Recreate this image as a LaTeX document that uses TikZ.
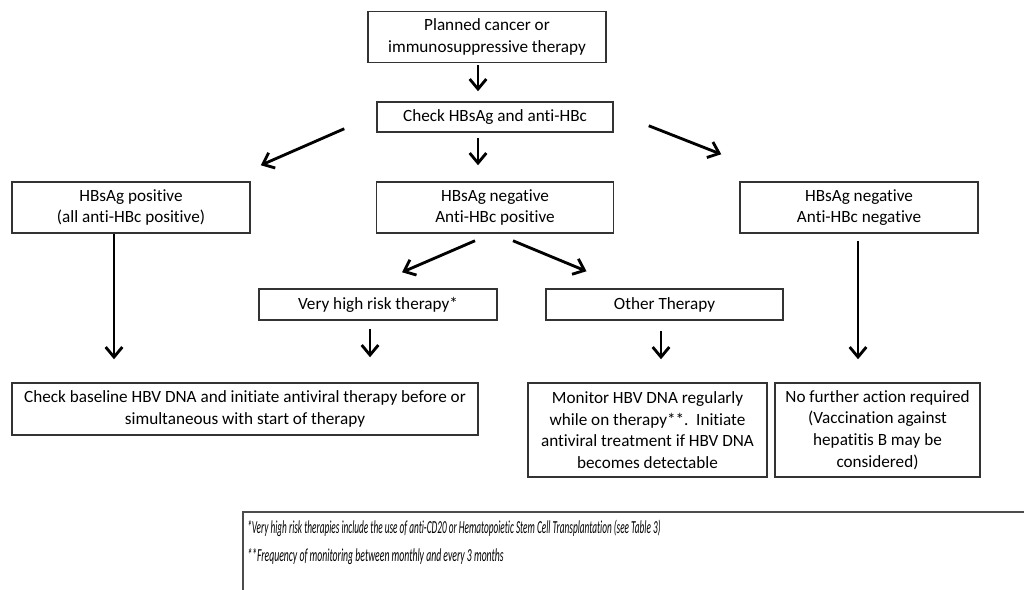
\documentclass[tikz,border=0pt]{standalone}
\usepackage{fontspec}
\setmainfont{Carlito}[Ligatures={NoCommon}]
\usepackage{graphicx}
\usetikzlibrary{%
  arrows.meta%
}

\begin{document}
\begin{tikzpicture}[x=0.6pt,y=-0.6pt,
    box/.style={draw=black!80,line width=0.9pt,inner sep=0pt,align=center,
      font=\fontsize{10.3}{13}\selectfont},
    arr/.style={line width=1.7pt,-{Straight Barb[length=6pt,width=10pt,line width=1.7pt]}}]
      \useasboundingbox (0,0) rectangle (1024,590);
      \clip (0,0) rectangle (1024,590);
      \node [box,minimum width=238*0.6pt,minimum height=51*0.6pt] (plan) at (487,37)
        {Planned cancer or\\immunosuppressive therapy};
      \node [box,minimum width=236*0.6pt,minimum height=30*0.6pt] (chk) at (495,117)
        {Check HBsAg and anti-HBc};
      \node [box,minimum width=238*0.6pt,minimum height=51*0.6pt] (pos) at (131,207.5)
        {HBsAg positive\\(all anti-HBc positive)};
      \node [box,minimum width=237*0.6pt,minimum height=51*0.6pt] (mid) at (495,207.5)
        {HBsAg negative\\Anti-HBc positive};
      \node [box,minimum width=238*0.6pt,minimum height=51*0.6pt] (neg) at (859,207.5)
        {HBsAg negative\\Anti-HBc negative};
      \node [box,minimum width=238*0.6pt,minimum height=31*0.6pt] (vhr) at (378,304.5)
        {Very high risk therapy*};
      \node [box,minimum width=237*0.6pt,minimum height=31*0.6pt] (oth) at (664.5,304.5)
        {Other Therapy};
      \node [box,minimum width=466*0.6pt,minimum height=52*0.6pt] (base) at (245,409)
        {Check baseline HBV DNA and initiate antiviral therapy before or\\
         simultaneous with start of therapy};
      \node [box,minimum width=239*0.6pt,minimum height=94*0.6pt] (mon) at (647.5,430)
        {Monitor HBV DNA regularly\\while on therapy**.\ \ Initiate\\
         antiviral treatment if HBV DNA\\becomes detectable};
      \node [box,minimum width=205*0.6pt,minimum height=94*0.6pt] (none) at (877.5,430)
        {No further action required\\(Vaccination against\\hepatitis B may be\\considered)};
      % footnotes
      \draw [draw=black!70,line width=0.9pt] (1040,512) -- (243,512) -- (243,610);
      \node [anchor=west,inner sep=0pt,font=\fontsize{11}{13}\itshape] (fn1) at (247,528)
        {\scalebox{0.505}[1]{*Very high risk therapies include the use of anti-CD20 or Hematopoietic Stem Cell Transplantation (see Table 3)}};
      \node [anchor=west,inner sep=0pt,font=\fontsize{11}{13}\itshape] (fn2) at (247,557)
        {\scalebox{0.53}[1]{**Frequency of monitoring between monthly and every 3 months}};
      % arrows
      \draw [arr] ([shift={(-9,2)}]plan.south) -- ([shift={(-17,-10)}]chk.north);
      \draw [arr] ([shift={(-32,-4)}]chk.south west) -- ([shift={(10,-16)}]pos.north east);
      \draw [arr] ([shift={(-17,5)}]chk.south) -- ([shift={(-17,-16)}]mid.north);
      \draw [arr] ([shift={(35,-7)}]chk.south east) -- ([shift={(-18,-27)}]neg.north west);
      \draw [arr] ([shift={(-17,0)}]pos.south) -- ([shift={(-131,-23)}]base.north);
      \draw [arr] ([shift={(-20,7)}]mid.south) -- ([shift={(24,-16)}]vhr.north);
      \draw [arr] ([shift={(18,7)}]mid.south) -- ([shift={(-78,-17)}]oth.north);
      \draw [arr] ([shift={(-8,8)}]vhr.south) -- ([shift={(125,-25)}]base.north);
      \draw [arr] ([shift={(-3.5,10)}]oth.south) -- ([shift={(13.5,-23)}]mon.north);
      \draw [arr] ([shift={(-1,7)}]neg.south) -- ([shift={(-19.5,-23)}]none.north);
\end{tikzpicture}
\end{document}
